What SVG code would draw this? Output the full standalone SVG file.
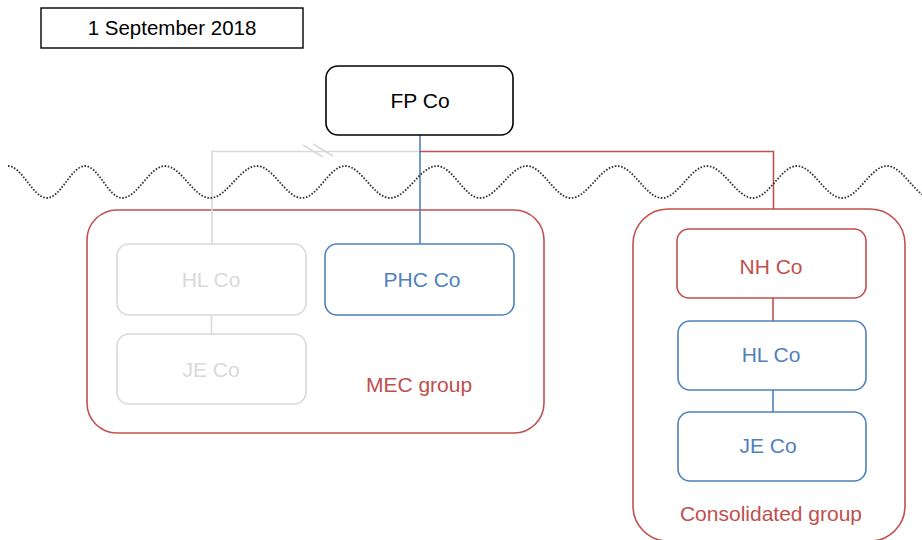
<svg xmlns="http://www.w3.org/2000/svg" width="922" height="540" viewBox="0 0 922 540">
<style>
text{font-family:"Liberation Sans",Arial,sans-serif;font-size:21px;text-anchor:middle}
.box{fill:#fff;stroke-width:1.6}
.red{stroke:#c0504d}
.blue{stroke:#4f81bd}
.gray{stroke:#d9d9d9}
.tred{fill:#c0504d}
.tblue{fill:#4f81bd}
.tgray{fill:#d9d9d9}
.ln{fill:none;stroke-width:1.6}
.grp{fill:none;stroke:#c0504d;stroke-width:1.6}
</style>
<rect width="922" height="540" fill="#fff"/>
<g id="date">
<rect x="41" y="8" width="262" height="40" fill="#fff" stroke="#000" stroke-width="1.4"/>
<text x="172" y="35" fill="#000" style="font-size:20.5px">1 September 2018</text>
</g>
<g id="mec-group">
<rect class="grp" x="87" y="210" width="457" height="223" rx="30"/>
<text class="tred" x="419" y="392">MEC group</text>
</g>
<g id="consolidated-group">
<rect class="grp" x="633" y="209" width="272" height="332" rx="35"/>
<text class="tred" x="771" y="521">Consolidated group</text>
</g>
<g id="connectors">
<path class="ln gray" d="M420,151.5H212V244"/>
<path class="ln gray" d="M303,145L323,157M313,144L333,156"/>
<path class="ln gray" d="M211.5,315V334"/>
<path class="ln blue" d="M420,135V244"/>
<path class="ln red" d="M420,151.5H773.5V209"/>
<path class="ln red" d="M773,298V321"/>
<path class="ln blue" d="M773,390V412"/>
</g>
<path id="wave" fill="none" stroke="#333" stroke-width="1.8" stroke-dasharray="1.6 1.6" d="M8,166 C22.2,166 32.8,198 47,198 C60.8,198 71.2,166 85,166 C98.5,166 108.5,198 122,198 C137.7,198 149.3,166 165,166 C181.4,166 193.6,198 210,198 C227.1,198 239.9,166 257,166 C273.4,166 285.6,198 302,198 C317.7,198 329.3,166 345,166 C361.4,166 373.6,198 390,198 C407.1,198 419.9,166 437,166 C452.7,166 464.3,198 480,198 C497.1,198 509.9,166 527,166 C543,166 555,198 571,198 C587.7,198 600.3,166 617,166 C633.4,166 645.6,198 662,198 C678.4,198 690.6,166 707,166 C723.7,166 736.3,198 753,198 C769,198 781,166 797,166 C813.4,166 825.6,198 842,198 C858.4,198 870.6,166 887,166 C903.4,166 915.6,198 932,198"/>
<g id="fp-co">
<rect x="326" y="66" width="187" height="69" rx="12" fill="#fff" stroke="#000" stroke-width="1.6"/>
<text x="420" y="108" fill="#000">FP Co</text>
</g>
<g id="hl-co-old">
<rect class="box gray" x="117" y="244" width="189" height="71" rx="12"/>
<text class="tgray" x="211" y="287">HL Co</text>
</g>
<g id="je-co-old">
<rect class="box gray" x="117" y="334" width="189" height="70" rx="12"/>
<text class="tgray" x="211" y="377">JE Co</text>
</g>
<g id="phc-co">
<rect class="box blue" x="325" y="244" width="189" height="71" rx="12"/>
<text class="tblue" x="422" y="287">PHC Co</text>
</g>
<g id="nh-co">
<rect class="box red" x="677" y="229" width="189" height="69" rx="12"/>
<text class="tred" x="771" y="274">NH Co</text>
</g>
<g id="hl-co">
<rect class="box blue" x="678" y="321" width="188" height="69" rx="12"/>
<text class="tblue" x="771" y="362">HL Co</text>
</g>
<g id="je-co">
<rect class="box blue" x="678" y="412" width="188" height="69" rx="12"/>
<text class="tblue" x="768" y="453">JE Co</text>
</g>
</svg>
